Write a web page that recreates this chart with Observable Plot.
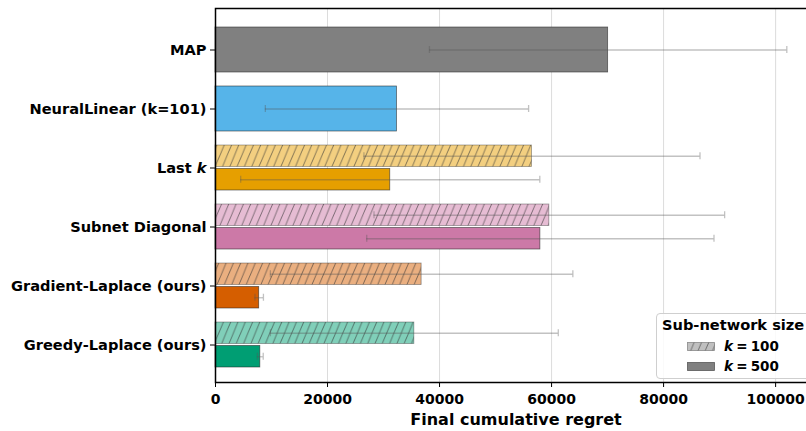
<!DOCTYPE html>
<html>
<head>
<meta charset="utf-8">
<script src="https://cdn.jsdelivr.net/npm/d3@7"></script>
<script src="https://cdn.jsdelivr.net/npm/@observablehq/plot@0.6"></script>
<style>
  body { margin: 0; background: white; }
  #wrap { position: relative; width: 806px; height: 431px; overflow: hidden; }
  #wrap svg text { font-family: "DejaVu Sans", sans-serif; font-weight: bold; fill: black; }
  g[aria-label^="x-axis"] text { font-size: 14px; }
  g[aria-label^="y-axis"] text { font-size: 14.6px; }
  #legend { position: absolute; left: 656px; top: 313px; width: 170px; height: 64px;
    border: 1px solid #cfcfcf; border-radius: 4px; background: rgba(255,255,255,0.85);
    font-family: "DejaVu Sans", sans-serif; font-weight: bold; color: black; }
  #legend .title { position: absolute; left: 5px; top: 2px; font-size: 14.6px; white-space: nowrap; }
  #legend .entry { position: absolute; left: 30px; height: 16px; white-space: nowrap; font-size: 13.5px; }
  #legend .entry svg { position: absolute; left: 0; top: 3px; }
  #legend .entry span { position: absolute; left: 37px; top: -1px; word-spacing: -1.5px; }
</style>
</head>
<body>
<div id="wrap"></div>
<script>
// ---------------- data ----------------
const methods = ["MAP", "NeuralLinear (k=101)", "Last k", "Subnet Diagonal", "Gradient-Laplace (ours)", "Greedy-Laplace (ours)"];
const methodColors = ["#808080", "#56B4E9", "#E69F00", "#CC79A7", "#D55E00", "#009E73"];

// methods with a single bar (no sub-network size)
const singleMethods = ["MAP", "NeuralLinear (k=101)"];
const singleMean = [70100, 32400];
const singleErr = [31900, 23500];

// methods with sub-network sizes
const subnetMethods = ["Last k", "Subnet Diagonal", "Gradient-Laplace (ours)", "Greedy-Laplace (ours)"];
const k100Mean = [56500, 59600, 36800, 35500];
const k100Err = [30000, 31300, 27000, 25700];
const k500Mean = [31200, 58000, 7800, 8000];
const k500Err = [26700, 31000, 760, 520];

const xTicks = [0, 20000, 40000, 60000, 80000, 100000];
const xLabel = "Final cumulative regret";
const legendTitle = "Sub-network size";
const legendSizes = ["100", "500"];

// ---------------- derived tables ----------------
const colorOf = m => methodColors[methods.indexOf(m)];
const light = c => d3.interpolateRgb(c, "white")(0.5);
const hatchId = m => "hatch-" + methods.indexOf(m);

const single = singleMethods.map((m, i) => ({method: m, mean: singleMean[i], err: singleErr[i], fill: colorOf(m)}));
const k100 = subnetMethods.map((m, i) => ({method: m, mean: k100Mean[i], err: k100Err[i], fill: `url(#${hatchId(m)})`}));
const k500 = subnetMethods.map((m, i) => ({method: m, mean: k500Mean[i], err: k500Err[i], fill: colorOf(m)}));

// hatch pattern defs
const PW = 7.3, PH = 17.5;
function patternDef(id, bg) {
  return `<pattern id="${id}" patternUnits="userSpaceOnUse" width="${PW}" height="${PH}">
    <rect width="${PW}" height="${PH}" fill="${bg}"/>
    <path d="M${-PW},${PH} L0,0 M0,${PH} L${PW},0 M${PW},${PH} L${2*PW},0" stroke="#333" stroke-opacity="0.75" stroke-width="0.8"/>
  </pattern>`;
}
let defs = subnetMethods.map(m => patternDef(hatchId(m), light(colorOf(m)))).join("");
defs += patternDef("hatch-legend", light("#808080"));

const errStyle = {stroke: "#555", strokeOpacity: 0.36, strokeWidth: 1.3};
const edgeSolid = {stroke: "#222", strokeOpacity: 0.65, strokeWidth: 0.8};
const edgeHatch = {stroke: "#222", strokeOpacity: 0.45, strokeWidth: 0.8};

const chart = Plot.plot({
  width: 806,
  height: 431,
  marginLeft: 215,
  marginRight: -2,
  marginTop: 8,
  marginBottom: 49,
  color: {type: "identity"},
  x: {domain: [0, 107300], range: [215, 816], ticks: xTicks, tickFormat: d3.format("d"), tickSize: 5, tickPadding: 7, label: null},
  y: {domain: methods, paddingInner: 0.24, paddingOuter: 0.28, align: 0.56, tickSize: 5, tickPadding: 4, label: null},
  marks: [
    Plot.ruleX(xTicks, {stroke: "#dcdcdc", strokeWidth: 1}),
    // bars
    Plot.barX(single, {y: "method", x: "mean", fill: "fill", ...edgeSolid}),
    Plot.barX(k100, {y: "method", x: "mean", fill: "fill", insetBottom: 23.5, ...edgeHatch}),
    Plot.barX(k500, {y: "method", x: "mean", fill: "fill", insetTop: 23.5, ...edgeSolid}),
    // error bars
    Plot.ruleY(single, {y: "method", x1: d => d.mean - d.err, x2: d => d.mean + d.err, ...errStyle}),
    Plot.tickX(single, {y: "method", x: d => d.mean - d.err, insetTop: 19, insetBottom: 19, ...errStyle}),
    Plot.tickX(single, {y: "method", x: d => d.mean + d.err, insetTop: 19, insetBottom: 19, ...errStyle}),
    Plot.ruleY(k100, {y: "method", x1: d => d.mean - d.err, x2: d => d.mean + d.err, dy: -11.75, ...errStyle}),
    Plot.tickX(k100, {y: "method", x: d => d.mean - d.err, insetTop: 7.25, insetBottom: 30.75, ...errStyle}),
    Plot.tickX(k100, {y: "method", x: d => d.mean + d.err, insetTop: 7.25, insetBottom: 30.75, ...errStyle}),
    Plot.ruleY(k500, {y: "method", x1: d => d.mean - d.err, x2: d => d.mean + d.err, dy: 11.75, ...errStyle}),
    Plot.tickX(k500, {y: "method", x: d => d.mean - d.err, insetTop: 30.75, insetBottom: 7.25, ...errStyle}),
    Plot.tickX(k500, {y: "method", x: d => d.mean + d.err, insetTop: 30.75, insetBottom: 7.25, ...errStyle}),
    Plot.frame({stroke: "black", strokeWidth: 1.5}),
    Plot.text([xLabel], {frameAnchor: "bottom", dx: 4, dy: 42, fontSize: 16, fontWeight: "bold", fill: "black"})
  ]
});

const wrap = document.getElementById("wrap");
wrap.appendChild(chart);
const svg = d3.select(chart);
svg.insert("defs", ":first-child").html(defs);

// italic k in "Last k"
svg.selectAll("text").each(function() {
  if (this.textContent === "Last k" && this.children.length === 0) {
    const t = d3.select(this);
    t.text("Last ");
    t.append("tspan").attr("font-style", "italic").text("k");
  }
});

// legend
const legend = document.createElement("div");
legend.id = "legend";
let html = `<div class="title">${legendTitle}</div>`;
legendSizes.forEach((s, i) => {
  const fill = i === 0 ? "url(#hatch-legend)" : "#808080";
  const op = i === 0 ? 0.45 : 0.65;
  html += `<div class="entry" style="top:${25 + i * 20}px">
    <svg width="28" height="9"><rect x="0.5" y="0.5" width="27" height="8" fill="${fill}" stroke="#222" stroke-opacity="${op}" stroke-width="0.8"/></svg>
    <span><i>k</i> = ${s}</span></div>`;
});
legend.innerHTML = html;
wrap.appendChild(legend);
</script>
</body>
</html>
